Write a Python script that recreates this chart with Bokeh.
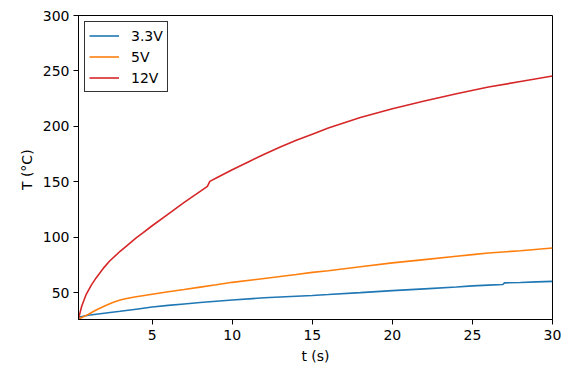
from bokeh.plotting import figure
from bokeh.models import Legend, LegendItem, Range1d, FixedTicker
from bokeh.embed import file_html
from bokeh.resources import INLINE

# --- data ---
t_33 = [0.4, 1, 2, 3, 4, 5, 6, 7, 8, 9, 10, 12, 14, 15, 16, 18, 20, 22, 24, 25, 26, 26.9, 27.0, 28, 29, 30]
T_33 = [28.0, 29.8, 31.6, 33.4, 35.3, 37.2, 38.7, 40.0, 41.3, 42.5, 43.6, 45.6, 47.0, 47.7, 48.5, 50.2, 52.0, 53.6, 55.3, 56.3, 57.0, 57.5, 59.0, 59.4, 59.9, 60.4]

t_5 = [0.4, 1, 1.5, 2, 2.5, 3, 3.4, 4, 5, 6, 7, 8, 9, 10, 12, 14, 15, 16, 18, 20, 22, 24, 25, 26, 28, 30]
T_5 = [26.5, 30.5, 34.5, 38.0, 41.0, 43.5, 45.0, 46.5, 48.8, 51.0, 53.0, 55.2, 57.3, 59.5, 63.0, 66.5, 68.5, 70.0, 73.5, 77.0, 80.0, 83.0, 84.5, 86.0, 88.0, 90.5]

t_12 = [0.4, 0.46, 0.6, 0.875, 1.2, 1.5, 2, 2.33, 3, 3.375, 4, 4.42, 5, 6, 7, 8, 8.45, 8.6, 9, 10, 11, 12, 13, 14, 15, 16, 18, 20, 22, 24, 26, 28, 30]
T_12 = [27.0, 30.0, 38.0, 48.5, 57.0, 63.5, 73.0, 78.5, 87.5, 92.0, 99.5, 104.0, 110.5, 121.0, 131.5, 141.5, 146.0, 150.5, 153.5, 161.0, 168.0, 175.0, 181.5, 187.5, 193.0, 198.5, 208.0, 216.0, 223.0, 229.5, 235.5, 240.5, 245.5]

x_ticks = [5, 10, 15, 20, 25, 30]
y_ticks = [50, 100, 150, 200, 250, 300]

FONT = "DejaVu Sans"

p = figure(width=562, height=366, output_backend="svg", toolbar_location=None,
           x_range=Range1d(0.4, 30), y_range=Range1d(26, 300),
           min_border_left=78, min_border_top=15, min_border_right=10, min_border_bottom=44)

r1 = p.line(t_33, T_33, line_color="#1f77b4", line_width=1.6)
r2 = p.line(t_5, T_5, line_color="#ff7f0e", line_width=1.6)
r3 = p.line(t_12, T_12, line_color="#d62728", line_width=1.6)

p.xgrid.visible = False
p.ygrid.visible = False
p.outline_line_color = "black"
p.outline_line_width = 1
p.outline_line_alpha = 1

p.xaxis.ticker = FixedTicker(ticks=x_ticks)
p.yaxis.ticker = FixedTicker(ticks=y_ticks)
for ax in (p.xaxis[0], p.yaxis[0]):
    ax.axis_line_color = "black"
    ax.major_tick_line_color = "black"
    ax.major_tick_out = 5
    ax.major_tick_in = 0
    ax.minor_tick_line_color = None
    ax.major_label_text_font = FONT
    ax.major_label_text_font_size = "14px"
    ax.major_label_text_color = "black"
    ax.axis_label_text_font = FONT
    ax.axis_label_text_font_size = "14px"
    ax.axis_label_text_font_style = "normal"
    ax.axis_label_text_color = "black"
p.xaxis.axis_label = "t (s)"
p.yaxis.axis_label = "T  (°C)"
p.xaxis.major_label_standoff = 5
p.yaxis.major_label_standoff = 4
p.xaxis.axis_label_standoff = 5
p.yaxis.axis_label_standoff = 5

legend = Legend(items=[LegendItem(label="3.3V", renderers=[r1]),
                       LegendItem(label="5V", renderers=[r2]),
                       LegendItem(label="12V", renderers=[r3])],
                location="top_left")
legend.label_text_font = FONT
legend.label_text_font_size = "14px"
legend.label_text_color = "black"
legend.border_line_color = "black"
legend.border_line_width = 1
legend.border_line_alpha = 0.8
legend.margin = 6
legend.padding = 4
legend.spacing = 2
legend.glyph_width = 30
legend.glyph_height = 19
legend.label_standoff = 12
legend.label_height = 19
p.add_layout(legend)

open("out.html", "w").write(file_html(p, INLINE))
